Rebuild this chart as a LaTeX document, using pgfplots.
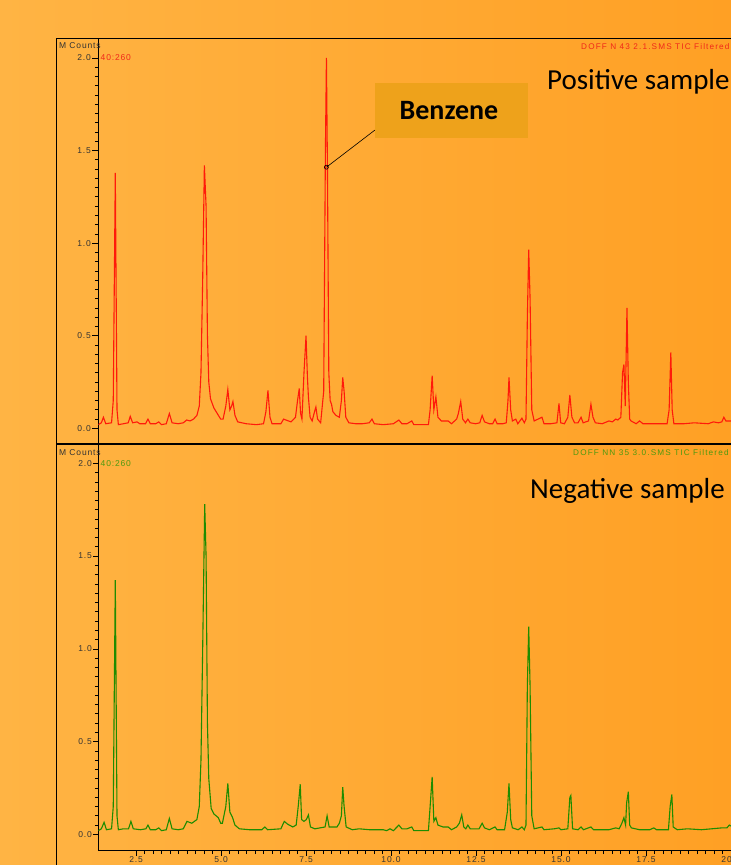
\documentclass[border=0pt]{standalone}
\usepackage{pgfplots}
\pgfplotsset{compat=1.18}
\usepackage{fontspec}
\setmainfont{Carlito}
\newfontfamily\tickfont[LetterSpace=10]{Liberation Sans}
\newfontfamily\widefont[LetterSpace=14]{Liberation Sans}
\definecolor{bgL}{HTML}{FFB444}
\definecolor{bgR}{HTML}{FFA024}
\definecolor{redline}{HTML}{FF1A0A}
\definecolor{greenline}{HTML}{1E8C00}
\definecolor{redtxt}{HTML}{F0281A}
\definecolor{greentxt}{HTML}{4C9A10}
\definecolor{boxfill}{HTML}{EEA21B}
\definecolor{ticktxt}{HTML}{333333}

\pgfplotstableread{
t v
1.39 0.02
1.48 0.03
1.54 0.06
1.61 0.025
1.78 0.03
1.83 0.15
1.89 1.38
1.94 0.1
1.98 0.02
2.13 0.025
2.27 0.03
2.33 0.065
2.40 0.03
2.53 0.035
2.61 0.025
2.78 0.025
2.85 0.05
2.92 0.025
3.08 0.025
3.17 0.035
3.25 0.02
3.39 0.025
3.48 0.08
3.56 0.03
3.74 0.025
3.89 0.03
3.99 0.045
4.09 0.04
4.19 0.05
4.29 0.07
4.36 0.12
4.41 0.3
4.46 0.8
4.51 1.42
4.56 1.2
4.60 0.5
4.64 0.25
4.69 0.16
4.79 0.11
4.89 0.08
4.99 0.05
5.06 0.05
5.14 0.12
5.20 0.21
5.26 0.1
5.31 0.12
5.35 0.145
5.41 0.07
5.49 0.035
5.74 0.025
6.04 0.02
6.25 0.025
6.32 0.09
6.38 0.205
6.44 0.06
6.50 0.025
6.76 0.025
6.84 0.05
6.91 0.045
7.06 0.035
7.19 0.06
7.25 0.15
7.30 0.215
7.34 0.08
7.38 0.05
7.44 0.3
7.50 0.50
7.54 0.28
7.57 0.17
7.62 0.06
7.68 0.04
7.75 0.09
7.79 0.115
7.84 0.05
7.93 0.03
8.02 0.2
8.07 1.5
8.10 2.0
8.13 1.4
8.17 0.3
8.21 0.15
8.25 0.13
8.29 0.09
8.38 0.07
8.48 0.06
8.54 0.15
8.58 0.275
8.62 0.2
8.67 0.06
8.76 0.03
8.96 0.025
9.16 0.025
9.36 0.03
9.44 0.05
9.51 0.025
9.77 0.02
10.07 0.025
10.23 0.045
10.32 0.025
10.47 0.025
10.61 0.04
10.67 0.02
10.87 0.02
11.10 0.02
11.15 0.1
11.21 0.285
11.26 0.1
11.32 0.17
11.38 0.06
11.48 0.04
11.68 0.04
11.78 0.025
11.93 0.05
11.98 0.08
12.05 0.145
12.11 0.05
12.19 0.03
12.26 0.05
12.33 0.03
12.49 0.025
12.61 0.03
12.68 0.07
12.75 0.035
12.89 0.025
12.99 0.025
13.06 0.05
13.12 0.025
13.29 0.025
13.39 0.03
13.44 0.15
13.47 0.275
13.52 0.1
13.57 0.04
13.67 0.05
13.73 0.025
13.85 0.055
13.92 0.03
13.97 0.05
14.01 0.6
14.05 0.965
14.09 0.7
14.14 0.1
14.21 0.04
14.44 0.06
14.50 0.025
14.70 0.025
14.88 0.03
14.94 0.135
14.99 0.03
15.10 0.025
15.20 0.06
15.26 0.18
15.32 0.06
15.40 0.03
15.50 0.03
15.59 0.06
15.65 0.03
15.81 0.04
15.88 0.13
15.94 0.06
16.01 0.03
16.21 0.025
16.41 0.04
16.51 0.035
16.61 0.05
16.67 0.045
16.76 0.06
16.81 0.3
16.85 0.345
16.89 0.12
16.94 0.65
16.98 0.25
17.02 0.05
17.06 0.04
17.21 0.025
17.31 0.04
17.41 0.025
17.92 0.025
18.12 0.025
18.18 0.1
18.23 0.41
18.27 0.1
18.32 0.025
18.62 0.025
18.92 0.03
19.33 0.025
19.48 0.035
19.63 0.03
19.73 0.035
19.79 0.06
19.85 0.04
20.05 0.04
}\positive

\pgfplotstableread{
t v
1.39 0.02
1.48 0.03
1.56 0.065
1.63 0.025
1.78 0.03
1.83 0.15
1.89 1.37
1.94 0.1
1.98 0.025
2.13 0.03
2.28 0.03
2.35 0.07
2.42 0.03
2.63 0.025
2.79 0.03
2.85 0.05
2.92 0.025
3.08 0.025
3.17 0.035
3.25 0.02
3.39 0.025
3.48 0.086
3.56 0.03
3.74 0.025
3.89 0.03
4.00 0.07
4.14 0.06
4.29 0.08
4.36 0.15
4.41 0.4
4.46 1.0
4.52 1.78
4.56 1.5
4.60 0.6
4.64 0.3
4.71 0.14
4.79 0.11
4.92 0.09
4.99 0.06
5.04 0.06
5.14 0.15
5.20 0.275
5.26 0.12
5.34 0.09
5.41 0.05
5.54 0.03
5.84 0.025
6.20 0.025
6.29 0.04
6.37 0.025
6.76 0.03
6.86 0.07
6.96 0.055
7.11 0.04
7.21 0.05
7.27 0.15
7.33 0.27
7.37 0.08
7.44 0.07
7.51 0.08
7.57 0.105
7.63 0.04
7.76 0.03
8.06 0.04
8.12 0.1
8.18 0.04
8.41 0.04
8.48 0.06
8.54 0.1
8.58 0.255
8.62 0.15
8.68 0.04
8.86 0.025
9.06 0.03
9.37 0.025
9.77 0.025
9.87 0.02
9.97 0.03
10.07 0.02
10.23 0.05
10.32 0.03
10.47 0.03
10.61 0.04
10.67 0.02
11.10 0.02
11.15 0.15
11.21 0.31
11.26 0.07
11.32 0.09
11.38 0.05
11.53 0.04
11.68 0.04
11.78 0.025
11.93 0.04
12.01 0.06
12.08 0.105
12.14 0.04
12.20 0.03
12.26 0.05
12.33 0.03
12.59 0.03
12.68 0.06
12.75 0.035
12.89 0.025
13.06 0.04
13.12 0.025
13.34 0.025
13.42 0.12
13.47 0.275
13.52 0.08
13.57 0.035
13.74 0.025
13.85 0.04
13.92 0.025
13.97 0.05
14.01 0.8
14.05 1.12
14.09 0.8
14.14 0.1
14.21 0.03
14.44 0.04
14.50 0.025
14.80 0.03
14.94 0.035
15.00 0.025
15.20 0.03
15.26 0.2
15.29 0.21
15.34 0.03
15.50 0.025
15.59 0.04
15.66 0.025
15.88 0.04
15.96 0.025
16.41 0.025
16.51 0.03
16.61 0.035
16.71 0.03
16.79 0.06
16.85 0.09
16.90 0.05
16.93 0.17
16.98 0.23
17.02 0.05
17.07 0.035
17.31 0.025
17.61 0.025
17.73 0.035
17.81 0.025
18.16 0.025
18.21 0.15
18.26 0.215
18.30 0.04
18.42 0.025
18.72 0.03
19.13 0.025
19.43 0.03
19.73 0.035
19.88 0.035
19.95 0.05
20.05 0.04
}\negative

\pgfplotsset{
  chrom/.style={
    scale only axis,
    width=632.7pt,
    xmin=1.39, xmax=20.0,
    axis y line*=left,
    axis line style={black, line width=0.9pt},
    ytick={0,0.5,1,1.5,2},
    minor y tick num=9,
    tick align=outside,
    major tick length=6pt,
    minor tick length=3.5pt,
    tick style={black, line width=0.7pt},
    /pgf/number format/assume math mode=true,
    yticklabel style={font=\tickfont\fontsize{8.5}{9}\selectfont, text=ticktxt, inner sep=1.2pt,
      /pgf/number format/.cd, fixed, fixed zerofill, precision=1},
    xticklabel style={font=\tickfont\fontsize{8.5}{9}\selectfont, text=ticktxt, inner sep=0.6pt,
      /pgf/number format/.cd, fixed, fixed zerofill, precision=1},
    clip=true,
  }
}

\begin{document}
\begin{tikzpicture}[x=1pt,y=1pt]
\useasboundingbox (0,0) rectangle (731,865);
\clip (0,0) rectangle (731,865);
\shade[left color=bgL, right color=bgR] (0,0) rectangle (731,865);

% frames
\draw[black, line width=1pt] (56.7,0) -- (56.7,826.7) -- (740,826.7);
\draw[black, line width=1.2pt] (56.7,421) -- (740,421);

% top panel
\begin{axis}[chrom,
  at={(98.3pt,422pt)}, anchor=south west,
  height=404.7pt,
  ymin=-0.079, ymax=2.106,
  axis x line=none,
]
\addplot[redline, line width=1.1pt] table[x=t,y=v] {\positive};
\coordinate (benz) at (axis cs:8.10,1.41);
\end{axis}

% bottom panel
\begin{axis}[chrom,
  at={(98.3pt,14.3pt)}, anchor=south west,
  height=405.7pt,
  ymin=-0.088, ymax=2.099,
  axis x line*=bottom,
  major tick length=5pt,
  xtick={2.5,5,7.5,10,12.5,15,17.5,20},
  minor x tick num=9,
]
\addplot[greenline, line width=1.1pt] table[x=t,y=v] {\negative};
\end{axis}

% annotation
\draw[black, line width=0.6pt] (benz) circle (2);
\draw[black, line width=0.6pt] (benz) -- (375,735);
\fill[boxfill] (375,727) rectangle (528,782);
\node[font=\bfseries\fontsize{28}{30}\selectfont, text=black] at (449,754.5) {Benzene};

% header texts
\node[anchor=west, inner sep=0, font=\tickfont\fontsize{8.5}{9}\selectfont, text=ticktxt] at (59,819) {M Counts};
\node[anchor=west, inner sep=0, font=\tickfont\fontsize{8.5}{9}\selectfont, text=redtxt] at (100.5,807.3) {40:260};
\node[anchor=west, inner sep=0, font=\widefont\fontsize{8.2}{9}\selectfont, text=redtxt] at (581,818) {DOFF N 43 2.1.SMS TIC Filtered};
\node[anchor=base west, inner sep=0, font=\fontsize{29}{32}\selectfont, text=black] at (547,775) {Positive sample};

\node[anchor=west, inner sep=0, font=\tickfont\fontsize{8.5}{9}\selectfont, text=ticktxt] at (59,412.3) {M Counts};
\node[anchor=west, inner sep=0, font=\tickfont\fontsize{8.5}{9}\selectfont, text=greentxt] at (100.5,401.7) {40:260};
\node[anchor=west, inner sep=0, font=\widefont\fontsize{8.2}{9}\selectfont, text=greentxt] at (573,412.3) {DOFF NN 35 3.0.SMS TIC Filtered};
\node[anchor=base west, inner sep=0, font=\fontsize{29}{32}\selectfont, text=black] at (530,366) {Negative sample};
\end{tikzpicture}
\end{document}
